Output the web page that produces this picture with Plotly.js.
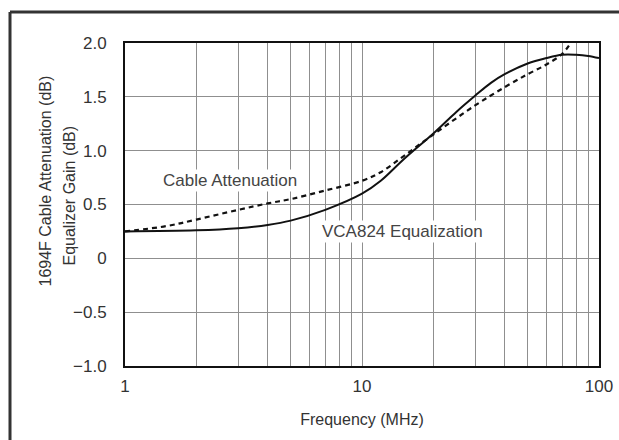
<!DOCTYPE html>
<html>
<head>
<meta charset="utf-8">
<script src="https://cdn.plot.ly/plotly-3.0.1.min.js"></script>
<style>html,body{margin:0;padding:0;background:#fff;overflow:hidden;}</style>
</head>
<body>
<div id="chart" style="width:619px;height:440px;"></div>
<script>
// Data
const cableFreq = [1, 1.5, 2, 3, 4, 5, 7, 10, 12, 15, 20, 30, 40, 50, 60, 70, 76];
const cableAtten = [0.25, 0.30, 0.36, 0.45, 0.51, 0.55, 0.63, 0.72, 0.80, 0.95, 1.15, 1.42, 1.59, 1.71, 1.80, 1.90, 2.0];
const eqFreq = [1, 2, 3, 4, 5, 7, 10, 12, 15, 20, 25, 30, 35, 40, 50, 60, 70, 80, 90, 100];
const eqGain = [0.25, 0.26, 0.28, 0.31, 0.35, 0.45, 0.60, 0.72, 0.92, 1.16, 1.36, 1.51, 1.63, 1.71, 1.81, 1.86, 1.89, 1.89, 1.88, 1.86];
const xMajorTicks = [1, 10, 100];
const xMajorLabels = ['1', '10', '100'];
const xMinorTicks = [2,3,4,5,6,7,8,9,20,30,40,50,60,70,80,90];
const yTicks = [-1, -0.5, 0, 0.5, 1, 1.5, 2];
const yLabels = ['\u22121.0', '\u22120.5', '0', '0.5', '1.0', '1.5', '2.0'];
const seriesNames = ['Cable Attenuation', 'VCA824 Equalization'];
const xTitle = 'Frequency (MHz)';
const yTitle1 = '1694F Cable Attenuation (dB)';
const yTitle2 = 'Equalizer Gain (dB)';

const font = 'Liberation Sans, Arial, Helvetica, sans-serif';
const traces = [
  {x: cableFreq, y: cableAtten, name: seriesNames[0], mode: 'lines',
   line: {color: '#111', width: 2.2, dash: '5px,4px', shape: 'spline', smoothing: 1}},
  {x: eqFreq, y: eqGain, name: seriesNames[1], mode: 'lines',
   line: {color: '#111', width: 2, shape: 'spline', smoothing: 1}}
];
const px = v => (v - 125) / 474;
const py = v => (366 - v) / 323;
const layout = {
  width: 619, height: 440,
  margin: {l: 125, r: 20, t: 43, b: 74, pad: 0},
  paper_bgcolor: '#fff', plot_bgcolor: '#fff',
  showlegend: false,
  font: {family: font, size: 17, color: '#333'},
  xaxis: {
    type: 'log', range: [0, 2],
    tickmode: 'array', tickvals: xMajorTicks, ticktext: xMajorLabels,
    ticks: '', ticklabelstandoff: 4, showgrid: true, gridcolor: '#8f8f8f', gridwidth: 1,
    minor: {tickmode: 'array', tickvals: xMinorTicks, showgrid: true, gridcolor: '#8f8f8f', gridwidth: 1, ticks: ''},
    showline: true, linecolor: '#111', linewidth: 2, mirror: true,
    zeroline: false,
    tickfont: {family: font, size: 17, color: '#333'},
    title: {text: xTitle, font: {family: font, size: 16, color: '#333'}, standoff: 18}
  },
  yaxis: {
    range: [-1, 2],
    tickmode: 'array', tickvals: yTicks, ticktext: yLabels,
    ticks: '', ticklabelstandoff: 13, showgrid: true, gridcolor: '#8f8f8f', gridwidth: 1,
    showline: true, linecolor: '#111', linewidth: 2, mirror: true,
    zeroline: false,
    tickfont: {family: font, size: 17, color: '#333'}
  },
  annotations: [
    {x: Math.log10(2.77), y: 0.72, xref: 'x', yref: 'y', text: seriesNames[0], showarrow: false,
     font: {family: font, size: 17, color: '#444'}, bgcolor: '#fff'},
    {x: 1.171, y: 0.25, xref: 'x', yref: 'y', text: seriesNames[1], showarrow: false,
     font: {family: font, size: 17, color: '#444'}, bgcolor: '#fff'},
    {x: px(34), y: py(181), xref: 'paper', yref: 'paper', text: yTitle1,
     textangle: -90, showarrow: false, font: {family: font, size: 16, color: '#333'}},
    {x: px(58), y: py(196), xref: 'paper', yref: 'paper', text: yTitle2,
     textangle: -90, showarrow: false, font: {family: font, size: 16, color: '#333'}}
  ],
  shapes: [
    {type: 'line', xref: 'paper', yref: 'paper', x0: px(10), x1: px(619), y0: py(12), y1: py(12),
     line: {color: '#333', width: 3}, layer: 'below'},
    {type: 'line', xref: 'paper', yref: 'paper', x0: px(10), x1: px(10), y0: py(12), y1: py(440),
     line: {color: '#333', width: 3}, layer: 'below'}
  ]
};
Plotly.newPlot('chart', traces, layout, {displayModeBar: false, staticPlot: true});
</script>
</body>
</html>
